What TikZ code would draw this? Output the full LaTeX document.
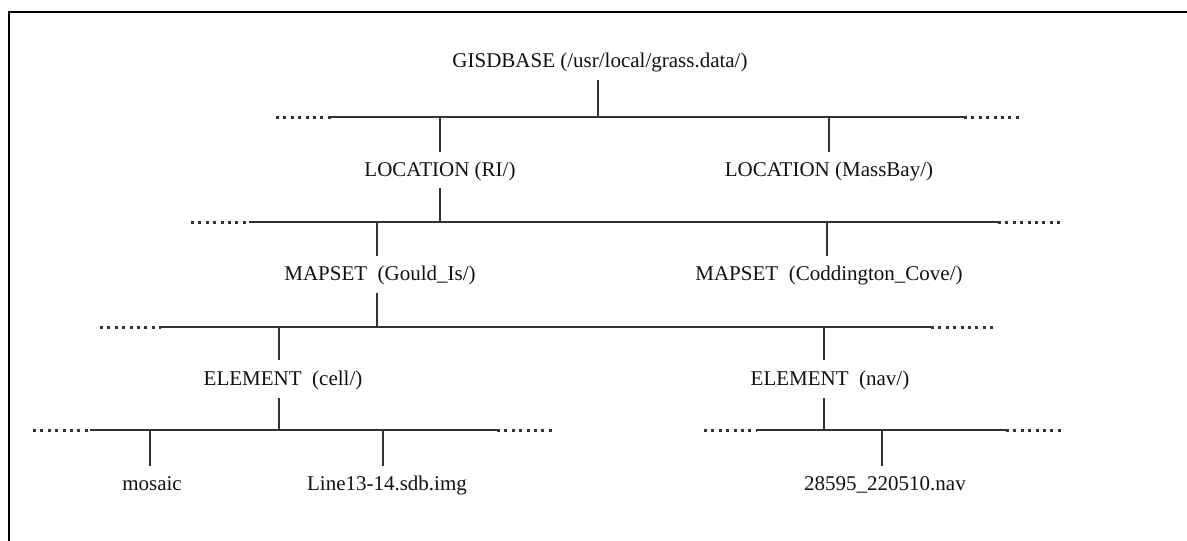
\documentclass[tikz,border=0pt]{standalone}
\usepackage{fontspec}
\setmainfont{Liberation Serif}
\definecolor{ink}{HTML}{111111}
\definecolor{wire}{HTML}{333333}
\begin{document}
\begin{tikzpicture}[x=1pt,y=-1pt,
  lbl/.style={anchor=base,inner sep=0pt,text=ink,font=\fontsize{21}{24}\selectfont},
  bus/.style={draw=wire,line width=2.2pt},
  dotbus/.style={draw=wire,line width=3pt,dash pattern=on 3pt off 4.4pt},
  drop/.style={draw=wire,line width=2.2pt},
  frame/.style={draw=black,line width=2.2pt}]
\useasboundingbox (0,0) rectangle (1187,541);
% frame
\draw[frame] (9,541) -- (9,12) -- (1190,12);
% labels
\node[lbl] (gis) at (600,67) {GISDBASE (/usr/local/grass.data/)};
\node[lbl] (locri) at (440,176) {LOCATION (RI/)};
\node[lbl] (locmb) at (829,176) {LOCATION (MassBay/)};
\node[lbl] (mapg) at (380,280) {MAPSET\ \ (Gould\_Is/)};
\node[lbl] (mapc) at (829,280) {MAPSET\ \ (Coddington\_Cove/)};
\node[lbl] (elc) at (283,385) {ELEMENT\ \ (cell/)};
\node[lbl] (eln) at (830,385) {ELEMENT\ \ (nav/)};
\node[lbl] (mos) at (152,490) {mosaic};
\node[lbl] (lin) at (387,490) {Line13-14.sdb.img};
\node[lbl] (nav) at (885,490) {28595\_220510.nav};
% bus coordinates
\coordinate (b1a) at (276,117); \coordinate (b1b) at (331,117);
\coordinate (b1c) at (964,117); \coordinate (b1d) at (1021,117);
\coordinate (b2a) at (191,222); \coordinate (b2b) at (249,222);
\coordinate (b2c) at (998,222); \coordinate (b2d) at (1060,222);
\coordinate (b3a) at (100,327); \coordinate (b3b) at (161,327);
\coordinate (b3c) at (931,327); \coordinate (b3d) at (995,327);
\coordinate (b4a) at (33,430); \coordinate (b4b) at (90,430);
\coordinate (b4c) at (497,430); \coordinate (b4d) at (555,430);
\coordinate (b5a) at (704,430); \coordinate (b5b) at (757,430);
\coordinate (b5c) at (1006,430); \coordinate (b5d) at (1065,430);
% buses
\draw[dotbus] (b1a) -- (b1b); \draw[bus] (b1b) -- (b1c); \draw[dotbus] (b1c) -- (b1d);
\draw[dotbus] (b2a) -- (b2b); \draw[bus] (b2b) -- (b2c); \draw[dotbus] (b2c) -- (b2d);
\draw[dotbus] (b3a) -- (b3b); \draw[bus] (b3b) -- (b3c); \draw[dotbus] (b3c) -- (b3d);
\draw[dotbus] (b4a) -- (b4b); \draw[bus] (b4b) -- (b4c); \draw[dotbus] (b4c) -- (b4d);
\draw[dotbus] (b5a) -- (b5b); \draw[bus] (b5b) -- (b5c); \draw[dotbus] (b5c) -- (b5d);
% junctions
\coordinate (j1) at (598,117);
\coordinate (j1l) at (440,117); \coordinate (j1r) at (829,117);
\coordinate (j2) at (440,222);
\coordinate (j2l) at (377,222); \coordinate (j2r) at (827,222);
\coordinate (j3) at (377,327);
\coordinate (j3l) at (279,327); \coordinate (j3r) at (824,327);
\coordinate (j4) at (279,430);
\coordinate (j4l) at (150,430); \coordinate (j4r) at (383,430);
\coordinate (j5) at (824,430);
\coordinate (j5r) at (882,430);
% drops from parents
\draw[drop] ([yshift=-13pt]gis.base -| j1) -- (j1);
\draw[drop] ([yshift=-12pt]locri.base -| j2) -- (j2);
\draw[drop] ([yshift=-13pt]mapg.base -| j3) -- (j3);
\draw[drop] ([yshift=-13pt]elc.base -| j4) -- (j4);
\draw[drop] ([yshift=-13pt]eln.base -| j5) -- (j5);
% drops to children
\draw[drop] (j1l) -- ([yshift=24pt]locri.base -| j1l);
\draw[drop] (j1r) -- ([yshift=24pt]locmb.base -| j1r);
\draw[drop] (j2l) -- ([yshift=24pt]mapg.base -| j2l);
\draw[drop] (j2r) -- ([yshift=24pt]mapc.base -| j2r);
\draw[drop] (j3l) -- ([yshift=25pt]elc.base -| j3l);
\draw[drop] (j3r) -- ([yshift=25pt]eln.base -| j3r);
\draw[drop] (j4l) -- ([yshift=24pt]mos.base -| j4l);
\draw[drop] (j4r) -- ([yshift=24pt]lin.base -| j4r);
\draw[drop] (j5r) -- ([yshift=24pt]nav.base -| j5r);
\end{tikzpicture}
\end{document}
